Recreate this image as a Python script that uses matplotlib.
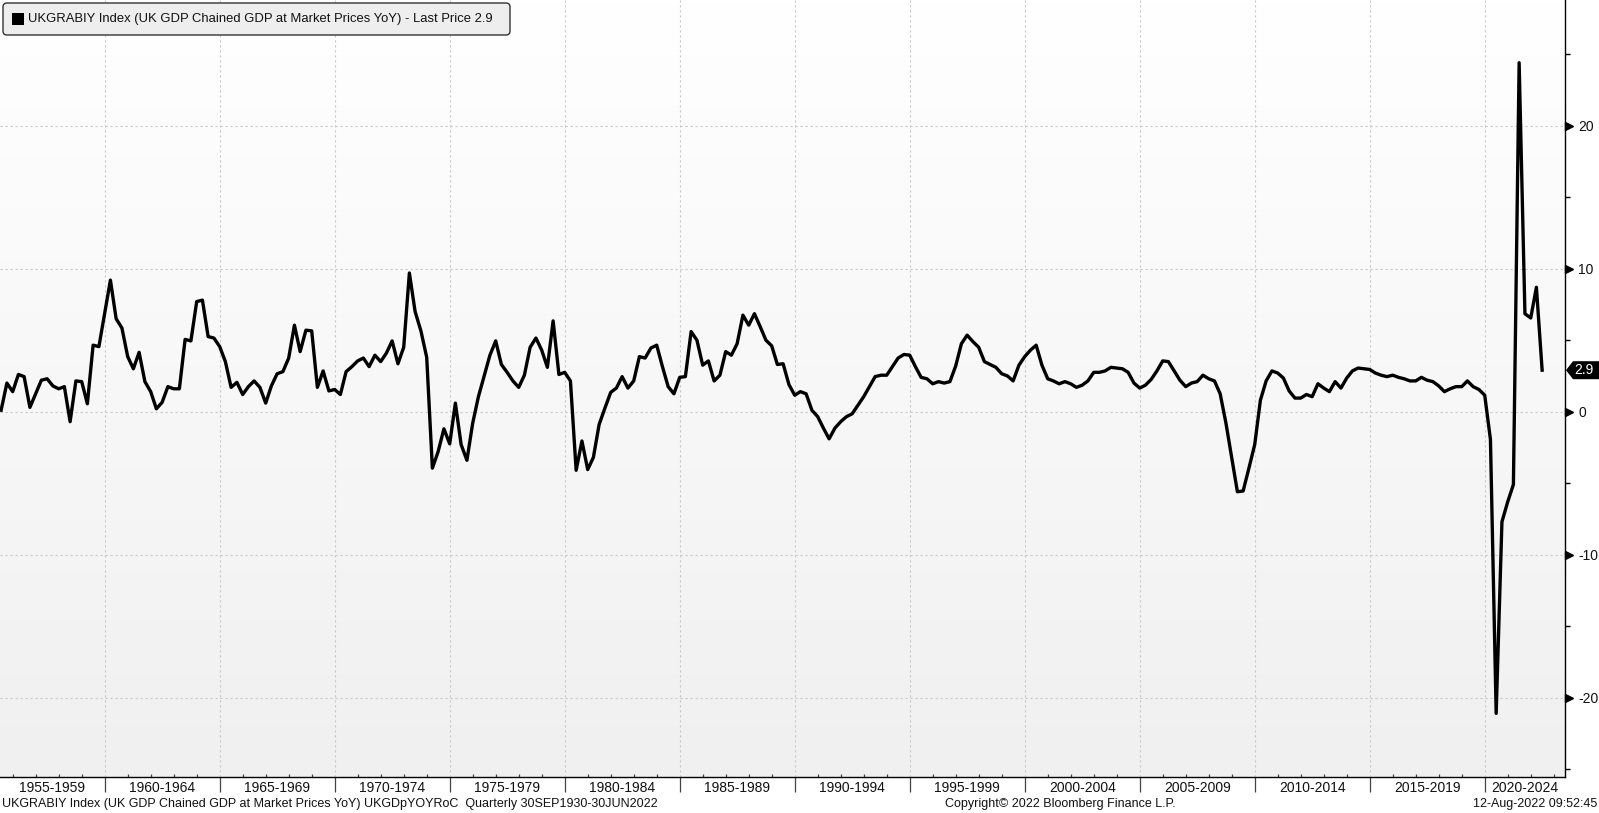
import numpy as np
import pandas as pd
import matplotlib
matplotlib.use("Agg")
import matplotlib.pyplot as plt
from matplotlib.patches import FancyBboxPatch, Polygon, Rectangle
from matplotlib.colors import LinearSegmentedColormap
from matplotlib.transforms import offset_copy

plt.rcParams['font.family'] = ['Liberation Sans', 'DejaVu Sans']
plt.rcParams['axes.unicode_minus'] = False

# ---------------- data (UK GDP YoY %, quarterly) ----------------
START_Q = "1955Q2"
END_Q = "2022Q2"

yoy_1955_1959 = [0.1, 2.0, 1.4, 2.6, 2.45, 0.3, 1.25, 2.2, 2.3, 1.8, 1.6, 1.75, -0.7, 2.15,
                 2.1, 0.55, 4.65, 4.55, 6.9]
yoy_1960s = [9.2, 6.5, 5.85, 3.85, 3.0, 4.15, 2.1, 1.4, 0.2, 0.65, 1.75, 1.6, 1.6, 5.05, 4.95,
             7.7, 7.8, 5.25, 5.15, 4.55, 3.5, 1.7, 2.05, 1.2, 1.75, 2.15, 1.7, 0.6, 1.8, 2.65,
             2.8, 3.75, 6.05, 4.2, 5.7, 5.65, 1.7, 2.85, 1.45, 1.55]
yoy_1970s = [1.2, 2.8, 3.15, 3.55, 3.75, 3.15, 3.95, 3.5, 4.1, 4.95, 3.35, 4.5, 9.7, 7.0, 5.65,
             3.8, -3.95, -2.8, -1.2, -2.25, 0.6, -2.3, -3.4, -0.8, 1.05, 2.5, 3.95, 4.95, 3.3,
             2.75, 2.15, 1.7, 2.55, 4.5, 5.15, 4.3, 3.1, 6.35, 2.6, 2.75]
yoy_1980s = [2.15, -4.1, -2.05, -4.05, -3.2, -0.9, 0.25, 1.35, 1.65, 2.45, 1.65, 2.15, 3.85,
             3.75, 4.45, 4.65, 3.15, 1.75, 1.25, 2.4, 2.45, 5.6, 5.0, 3.25, 3.55, 2.15, 2.55,
             4.2, 3.95, 4.75, 6.75, 6.05, 6.85, 5.95, 5.0, 4.6, 3.3, 3.35, 1.9, 1.15]
yoy_1990s = [1.4, 1.25, 0.1, -0.35, -1.15, -1.9, -1.15, -0.7, -0.35, -0.15, 0.45, 1.05, 1.75,
             2.45, 2.55, 2.55, 3.15, 3.75, 4.0, 3.95, 3.15, 2.4, 2.3, 1.95, 2.1, 2.0, 2.1, 3.2,
             4.75, 5.35, 4.9, 4.5, 3.5, 3.3, 3.1, 2.65, 2.5, 2.15, 3.25, 3.85]
yoy_2000s = [4.3, 4.65, 3.25, 2.3, 2.15, 1.95, 2.1, 1.95, 1.7, 1.85, 2.15, 2.75, 2.75, 2.85,
             3.1, 3.05, 3.0, 2.75, 2.0, 1.65, 1.85, 2.25, 2.85, 3.55, 3.5, 2.85, 2.2, 1.75, 2.0,
             2.1, 2.55, 2.3, 2.15, 1.25, -0.8, -3.2, -5.6, -5.55, -3.95, -2.3]
yoy_2010s = [0.8, 2.15, 2.85, 2.7, 2.35, 1.45, 0.95, 0.95, 1.2, 1.05, 1.95, 1.65, 1.4, 2.1,
             1.65, 2.35, 2.85, 3.05, 3.0, 2.95, 2.7, 2.55, 2.45, 2.55, 2.4, 2.3, 2.15, 2.15,
             2.4, 2.2, 2.1, 1.8, 1.4, 1.6, 1.75, 1.75, 2.15, 1.75, 1.55, 1.15]
yoy_2020s = [-1.95, -21.1, -7.7, -6.3, -5.1, 24.4, 6.85, 6.55, 8.7, 2.9]

last_price = 2.9
period_labels = ["1955-1959", "1960-1964", "1965-1969", "1970-1974", "1975-1979",
                 "1980-1984", "1985-1989", "1990-1994", "1995-1999", "2000-2004",
                 "2005-2009", "2010-2014", "2015-2019", "2020-2024"]
period_starts = [1955, 1960, 1965, 1970, 1975, 1980, 1985, 1990, 1995, 2000, 2005, 2010,
                 2015, 2020]
y_major = [-20, -10, 0, 10, 20]
y_minor = [-25, -15, -5, 5, 15, 25]

legend_text = "UKGRABIY Index (UK GDP Chained GDP at Market Prices YoY) - Last Price 2.9"
footer_left = ("UKGRABIY Index (UK GDP Chained GDP at Market Prices YoY) UKGDpYOYRoC  "
               "Quarterly 30SEP1930-30JUN2022")
footer_mid = "Copyright\u00a9 2022 Bloomberg Finance L.P."
footer_right = "12-Aug-2022 09:52:45"

# ---------------- build series ----------------
values = np.array(yoy_1955_1959 + yoy_1960s + yoy_1970s + yoy_1980s + yoy_1990s +
                  yoy_2000s + yoy_2010s + yoy_2020s)
periods = pd.period_range(START_Q, END_Q, freq="Q")
ends = periods.end_time
days = np.where(ends.is_leap_year, 366.0, 365.0)
xdec = ends.year.values + ends.dayofyear.values / days

# ---------------- figure ----------------
W, H = 1599, 813
fig = plt.figure(figsize=(W / 100, H / 100), dpi=100)
ax_right_px, ax_bottom_px = 1565, 777
ax = fig.add_axes([0, (H - ax_bottom_px) / H, ax_right_px / W, ax_bottom_px / H])

XLIM = (1955.448, 2023.49)
YLIM = (-25.55, 28.79)

# background gradient
cmap = LinearSegmentedColormap.from_list("bg", ["#ffffff", "#f0f0f0"])
ax.imshow(np.linspace(0, 1, 256).reshape(-1, 1), cmap=cmap, aspect="auto",
          extent=(XLIM[0], XLIM[1], YLIM[0], YLIM[1]), origin="upper", zorder=0)

ax.plot(xdec, values, color="black", lw=2.4, zorder=3)

ax.set_xlim(*XLIM)
ax.set_ylim(*YLIM)

for s in ["left", "top"]:
    ax.spines[s].set_visible(False)
for s in ["right", "bottom"]:
    ax.spines[s].set_color("black")
    ax.spines[s].set_linewidth(1.0)

# y axis on right
ax.yaxis.tick_right()
ax.set_yticks(y_major)
ax.set_yticklabels([str(v) for v in y_major])
ax.set_yticks(y_minor, minor=True)
ax.tick_params(axis="y", which="major", length=0, pad=9.5, labelsize=10,
               labelcolor="#111111")
ax.tick_params(axis="y", which="minor", length=3.5, width=1, color="black",
               direction="out")
tri_tr = offset_copy(ax.get_yaxis_transform(), fig=fig, x=4.0, y=0, units="dots")
ax.plot([1.0] * len(y_major), y_major, ls="none", marker=">", ms=6, color="black",
        transform=tri_tr, clip_on=False, zorder=5)

# x axis
sep = [p for p in period_starts if XLIM[0] < p < XLIM[1]]
ax.set_xticks(sep)
ax.set_xticklabels([])
ax.set_xticks(np.arange(1956, 2024), minor=True)
ax.tick_params(axis="x", which="major", length=11, width=0.9, color="#444444",
               direction="out")
ax.tick_params(axis="x", which="minor", length=2.5, width=0.9, color="#444444",
               direction="in", labelbottom=False)

xtr = ax.get_xaxis_transform()
lab_y = -(788 - ax_bottom_px) / ax_bottom_px
for lab, st in zip(period_labels, period_starts):
    a = max(st, XLIM[0])
    b = min(st + 5, XLIM[1])
    ax.text((a + b) / 2, lab_y, lab, transform=xtr, ha="center", va="center",
            fontsize=10, color="#111111", clip_on=False)

# grid
ax.grid(True, which="major", axis="both", color="#c8c8c8", lw=0.8, ls=(0, (2, 2.5)))
ax.set_axisbelow(True)

# last price tag
ytr = ax.get_yaxis_transform()
px_x = 1.0 / ax_right_px
px_y = (YLIM[1] - YLIM[0]) / ax_bottom_px
hh = 9 * px_y
tag = Polygon([(1 + 1 * px_x, last_price), (1 + 8 * px_x, last_price + hh),
               (1 + 34 * px_x, last_price + hh), (1 + 34 * px_x, last_price - hh),
               (1 + 8 * px_x, last_price - hh)], closed=True, transform=ytr,
              facecolor="black", edgecolor="none", clip_on=False, zorder=6)
ax.add_patch(tag)
ax.text(1 + 18.5 * px_x, last_price, f"{last_price}", transform=ytr, ha="center",
        va="center", color="white", fontsize=10, clip_on=False, zorder=7)

# legend box (pixel layout in inches)
dpt = fig.dpi_scale_trans
box = FancyBboxPatch((0.03, (H - 35) / 100), 5.07, 0.32,
                     boxstyle="round,pad=0,rounding_size=0.04", transform=dpt,
                     facecolor="#eeeeee", edgecolor="#333333", lw=1.0, zorder=10)
fig.patches.append(box)
sq = Rectangle((0.12, (H - 25) / 100), 0.12, 0.12, transform=dpt, facecolor="black",
               edgecolor="none", zorder=11)
fig.patches.append(sq)
fig.text(0.285, (H - 19) / 100, legend_text, transform=dpt, ha="left", va="center",
         fontsize=9.4, color="#111111", zorder=12)

# footer
fy = (H - 804) / H
fig.text(2 / W, fy, footer_left, ha="left", va="center", fontsize=9, color="#111111")
fig.text(1060 / W, fy, footer_mid, ha="center", va="center", fontsize=9, color="#111111")
fig.text(1597 / W, fy, footer_right, ha="right", va="center", fontsize=9, color="#111111")

fig.savefig("out.png", dpi=100, facecolor="white")
